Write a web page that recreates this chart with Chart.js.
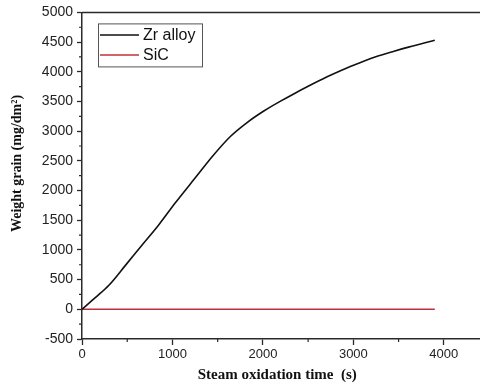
<!DOCTYPE html>
<html>
<head>
<meta charset="utf-8">
<script src="https://cdn.jsdelivr.net/npm/chart.js@4.4.1/dist/chart.umd.min.js"></script>
<style>
  html, body { margin: 0; padding: 0; background: #fff; overflow: hidden; }
  #wrap { width: 480px; height: 387px; position: relative; }
</style>
</head>
<body>
<div id="wrap"><canvas id="c" width="480" height="387"></canvas></div>
<script>
// ---- Data ----
const seriesNames = ["Zr alloy", "SiC"];
const timeZr   = [0, 150, 300, 480, 660, 850, 1030, 1250, 1450, 1640, 1825, 2010, 2190, 2340, 2500, 2710, 2870, 3080, 3240, 3450, 3610, 3900];
const weightZr = [0, 200, 410, 740, 1075, 1425, 1790, 2210, 2590, 2910, 3145, 3339, 3501, 3627, 3755, 3915, 4027, 4157, 4247, 4345, 4415, 4530];
const timeSiC   = [0, 1000, 2000, 3000, 3900];
const weightSiC = [0, 0, 0, 0, 0];
const xTickLabels = [0, 1000, 2000, 3000, 4000];
const yTickLabels = [-500, 0, 500, 1000, 1500, 2000, 2500, 3000, 3500, 4000, 4500, 5000];

const colors = ["#111111", "#c0303a"];
const axisColor = "#2a2a2a";

function toPoints(xs, ys) { return xs.map((x, i) => ({ x: x, y: ys[i] })); }

const frameAndMinor = {
  id: 'frameAndMinor',
  afterDraw(chart) {
    const ctx = chart.ctx, a = chart.chartArea;
    const xs = chart.scales.x, ys = chart.scales.y;
    ctx.save();
    ctx.strokeStyle = axisColor;
    ctx.lineWidth = 1.5;
    // top frame line
    ctx.beginPath();
    ctx.moveTo(a.left, a.top);
    ctx.lineTo(a.right, a.top);
    ctx.stroke();
    // minor ticks
    ctx.lineWidth = 1.2;
    ctx.beginPath();
    for (let i = 0; i < xTickLabels.length; i++) {
      const v = xTickLabels[i] + 500;
      if (v > xs.max) break;
      const px = xs.getPixelForValue(v);
      ctx.moveTo(px, a.bottom);
      ctx.lineTo(px, a.bottom + 3);
    }
    for (let i = 0; i < yTickLabels.length - 1; i++) {
      const v = (yTickLabels[i] + yTickLabels[i + 1]) / 2;
      const py = ys.getPixelForValue(v);
      ctx.moveTo(a.left, py);
      ctx.lineTo(a.left - 3, py);
    }
    ctx.stroke();
    // legend box
    const bx = a.left + 16, by = a.top + 11, bw = 104, bh = 43;
    ctx.strokeStyle = "#555";
    ctx.lineWidth = 1;
    ctx.strokeRect(bx + 0.5, by + 0.5, bw, bh);
    ctx.font = "16px 'Liberation Sans', Arial, sans-serif";
    ctx.textBaseline = "middle";
    ctx.textAlign = "left";
    chart.data.datasets.forEach((ds, i) => {
      const ly = by + 11.5 + i * 20;
      ctx.strokeStyle = ds.borderColor;
      ctx.lineWidth = 1.5;
      ctx.beginPath();
      ctx.moveTo(bx + 2, ly);
      ctx.lineTo(bx + 41, ly);
      ctx.stroke();
      ctx.fillStyle = "#111";
      ctx.fillText(ds.label, bx + 45, ly + 1);
    });
    ctx.restore();
  }
};

new Chart(document.getElementById('c'), {
  type: 'line',
  data: {
    datasets: [
      {
        label: seriesNames[0],
        data: toPoints(timeZr, weightZr),
        borderColor: colors[0],
        borderWidth: 1.6,
        pointRadius: 0,
        cubicInterpolationMode: 'monotone',
        fill: false
      },
      {
        label: seriesNames[1],
        data: toPoints(timeSiC, weightSiC),
        borderColor: colors[1],
        borderWidth: 1.5,
        pointRadius: 0,
        fill: false
      }
    ]
  },
  options: {
    responsive: false,
    animation: false,
    events: [],
    layout: { padding: { top: 11, right: 0, bottom: 0, left: 0 } },
    plugins: { legend: { display: false }, tooltip: { enabled: false } },
    scales: {
      x: {
        type: 'linear',
        min: 0,
        max: 4400,
        afterBuildTicks(scale) { scale.ticks = xTickLabels.map(v => ({ value: v })); },
        afterFit(scale) { scale.height = 48; },
        grid: { drawOnChartArea: false, drawTicks: true, tickLength: 6, tickColor: axisColor, tickWidth: 1.3 },
        border: { display: true, color: axisColor, width: 1.5 },
        ticks: {
          padding: 2,
          maxRotation: 0,
          color: "#222",
          callback: v => String(v),
          font: { family: "'Liberation Sans', Arial, sans-serif", size: 13 }
        },
        title: {
          display: true,
          text: "Steam oxidation time  (s)  ",
          color: "#111",
          font: { family: "'Liberation Serif', 'Times New Roman', serif", size: 15, weight: 'bold' },
          padding: { top: 0, bottom: 3 }
        }
      },
      y: {
        type: 'linear',
        min: -500,
        max: 5000,
        afterBuildTicks(scale) { scale.ticks = yTickLabels.map(v => ({ value: v })); },
        afterFit(scale) { scale.width = 82; },
        grid: { drawOnChartArea: false, drawTicks: true, tickLength: 5, tickColor: axisColor, tickWidth: 1.3 },
        border: { display: true, color: axisColor, width: 1.5 },
        ticks: {
          padding: 4,
          color: "#222",
          callback: v => String(v),
          font: { family: "'Liberation Sans', Arial, sans-serif", size: 14 }
        },
        title: {
          display: true,
          text: "       Weight grain (mg/dm²)",
          color: "#111",
          font: { family: "'Liberation Serif', 'Times New Roman', serif", size: 14, weight: 'bold' },
          padding: { top: 9, bottom: 0 }
        }
      }
    }
  },
  plugins: [frameAndMinor]
});
</script>
</body>
</html>
